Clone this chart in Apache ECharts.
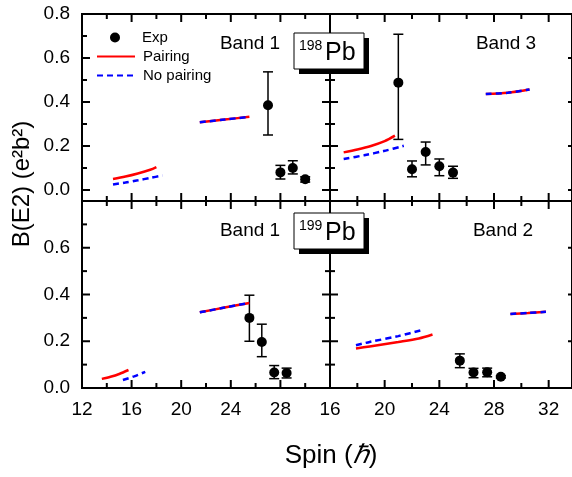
<!DOCTYPE html>
<html>
<head>
<meta charset="utf-8">
<script src="https://cdn.jsdelivr.net/npm/echarts@6/dist/echarts.min.js"></script>
<style>
  html, body { margin: 0; padding: 0; background: #fff; }
  #chart { width: 572px; height: 477px; }
</style>
</head>
<body>
<div id="chart"></div>
<script>
// --- axis ranges / ticks ---
var xLeftRange = [12, 32];
var xRightRange = [16, 32];
var yRange = [0, 0.8];
var xLeftMajor = [12, 16, 20, 24, 28, 32];
var xLeftMinor = [14, 18, 22, 26, 30];
var xRightMajor = [16, 20, 24, 28, 32];
var xRightMinor = [18, 22, 26, 30];
var yMajor = [0, 0.2, 0.4, 0.6, 0.8];
var yMinor = [0.1, 0.3, 0.5, 0.7];

// --- 198Pb band 1 : [spin, B(E2)] ; exp = [spin, value, low, high] ---
var pb198b1Pairing = [[14.5, 0.050], [15.5, 0.061], [16.5, 0.075], [17.5, 0.092], [18.0, 0.104]];
var pb198b1NoPairing = [[14.5, 0.025], [15.5, 0.034], [16.5, 0.044], [17.5, 0.055], [18.5, 0.066]];
var pb198b1PairingHi = [[21.5, 0.308], [23.5, 0.320], [25.5, 0.333]];
var pb198b1NoPairingHi = [[21.5, 0.308], [23.5, 0.320], [25.5, 0.333]];
var pb198b1Exp = [[27, 0.385, 0.250, 0.537], [28, 0.080, 0.050, 0.112], [29, 0.100, 0.073, 0.133], [30, 0.049, 0.036, 0.060]];

// --- 198Pb band 3 ---
var pb198b3Pairing = [[17.0, 0.171], [18.0, 0.184], [19.0, 0.200], [20.0, 0.222], [20.75, 0.247]];
var pb198b3NoPairing = [[17.0, 0.141], [18.5, 0.158], [20.0, 0.178], [21.4, 0.201]];
var pb198b3PairingHi = [[27.4, 0.436], [29.0, 0.442], [30.6, 0.457]];
var pb198b3NoPairingHi = [[27.4, 0.436], [29.0, 0.442], [30.6, 0.457]];
var pb198b3Exp = [[21, 0.488, 0.230, 0.708], [22, 0.094, 0.060, 0.132], [23, 0.173, 0.114, 0.218], [24, 0.108, 0.065, 0.141], [25, 0.079, 0.053, 0.108]];

// --- 199Pb band 1 ---
var pb199b1Pairing = [[13.6, 0.039], [14.3, 0.048], [15.0, 0.060], [15.75, 0.077]];
var pb199b1NoPairing = [[15.3, 0.034], [16.2, 0.050], [17.1, 0.069]];
var pb199b1PairingHi = [[21.5, 0.324], [23.5, 0.344], [25.5, 0.364]];
var pb199b1NoPairingHi = [[21.5, 0.324], [23.5, 0.344], [25.5, 0.364]];
var pb199b1Exp = [[25.5, 0.300, 0.200, 0.397], [26.5, 0.197, 0.134, 0.273], [27.5, 0.066, 0.040, 0.096], [28.5, 0.064, 0.043, 0.085]];

// --- 199Pb band 2 ---
var pb199b2Pairing = [[17.9, 0.169], [18.9, 0.178], [21.0, 0.197], [22.5, 0.212], [23.5, 0.229]];
var pb199b2NoPairing = [[17.9, 0.183], [18.9, 0.197], [21.0, 0.222], [22.8, 0.249]];
var pb199b2PairingHi = [[29.2, 0.317], [30.5, 0.321], [31.8, 0.326]];
var pb199b2NoPairingHi = [[29.2, 0.317], [30.5, 0.321], [31.8, 0.326]];
var pb199b2Exp = [[25.5, 0.117, 0.087, 0.146], [26.5, 0.066, 0.044, 0.084], [27.5, 0.067, 0.048, 0.085], [28.5, 0.048, 0.043, 0.053]];

var FONT = "'Liberation Sans', Arial, sans-serif";
var chart = echarts.init(document.getElementById('chart'));

// frames: 4 bordered grids. The right column runs to spin 34 (just off the canvas),
// the top row goes down to B(E2) = -0.05.
var frames = [
  { left: 82, top: 14, width: 248, height: 187, xHi: 32, yLo: -0.05 },
  { left: 330, top: 14, width: 246, height: 187, xHi: 34, yLo: -0.05 },
  { left: 82, top: 201, width: 248, height: 187, xHi: 32, yLo: 0 },
  { left: 330, top: 201, width: 246, height: 187, xHi: 34, yLo: 0 }
];
// plotting grids: y 0..0.8, x up to 32
var rightW = 246 * 16 / 18;
var plots = [
  { left: 82, top: 14, width: 248, height: 176 },
  { left: 330, top: 14, width: rightW, height: 176 },
  { left: 82, top: 201, width: 248, height: 187 },
  { left: 330, top: 201, width: rightW, height: 187 }
];

var grids = [];
frames.forEach(function (f) {
  grids.push({ left: f.left, top: f.top, width: f.width, height: f.height, show: true,
    backgroundColor: 'rgba(0,0,0,0)', borderColor: '#000', borderWidth: 2 });
});
plots.forEach(function (p) {
  grids.push({ left: p.left, top: p.top, width: p.width, height: p.height });
});

function plotAxis(grid, pos, range, step, offset, label) {
  return {
    type: 'value', gridIndex: grid, position: pos, offset: offset || 0,
    min: range[0], max: range[1], interval: step,
    splitLine: { show: false },
    axisLine: { show: false, onZero: false },
    axisTick: { show: false },
    axisLabel: label ? Object.assign({ show: true, color: '#000', fontSize: 19, fontFamily: FONT, margin: 12 }, label)
                     : { show: false }
  };
}

var xAxes = [], yAxes = [];
var yLabelTop = { formatter: function (v) { return v.toFixed(1); } };
var yLabelBottom = { formatter: function (v) { return v > 0.75 ? '' : v.toFixed(1); } };
var xLabelLeft = { formatter: function (v) { return v > 31 ? '' : String(v); } };
var xLabelRight = { formatter: function (v) { return String(v); } };
var labelSets = [
  { x: null, y: yLabelTop },
  { x: null, y: null },
  { x: xLabelLeft, y: yLabelBottom },
  { x: xLabelRight, y: null }
];
plots.forEach(function (p, i) {
  var xr = (i % 2 === 0) ? xLeftRange : xRightRange;
  xAxes.push(plotAxis(4 + i, 'bottom', xr, 4, i < 2 ? 11 : 0, labelSets[i].x));
  yAxes.push(plotAxis(4 + i, 'left', yRange, 0.2, 0, labelSets[i].y));
});

function renderErr(params, api) {
  var hi = api.coord([api.value(0), api.value(3)]);
  var lo = api.coord([api.value(0), api.value(2)]);
  var st = { stroke: '#000', lineWidth: 1.5 };
  return { type: 'group', children: [
    { type: 'line', shape: { x1: hi[0], y1: hi[1], x2: lo[0], y2: lo[1] }, style: st },
    { type: 'line', shape: { x1: hi[0] - 5, y1: hi[1], x2: hi[0] + 5, y2: hi[1] }, style: st },
    { type: 'line', shape: { x1: lo[0] - 5, y1: lo[1], x2: lo[0] + 5, y2: lo[1] }, style: st }
  ]};
}

var panels = [
  [pb198b1Pairing, pb198b1NoPairing, pb198b1PairingHi, pb198b1NoPairingHi, pb198b1Exp],
  [pb198b3Pairing, pb198b3NoPairing, pb198b3PairingHi, pb198b3NoPairingHi, pb198b3Exp],
  [pb199b1Pairing, pb199b1NoPairing, pb199b1PairingHi, pb199b1NoPairingHi, pb199b1Exp],
  [pb199b2Pairing, pb199b2NoPairing, pb199b2PairingHi, pb199b2NoPairingHi, pb199b2Exp]
];

var series = [];
panels.forEach(function (p, i) {
  var common = { xAxisIndex: i, yAxisIndex: i };
  [[p[0], 'Pairing', '#ff0000', 'solid'], [p[2], 'Pairing', '#ff0000', 'solid'],
   [p[1], 'No pairing', '#0000ff', [6, 4]], [p[3], 'No pairing', '#0000ff', [6, 4]]]
    .forEach(function (s) {
      series.push(Object.assign({ type: 'line', name: s[1], data: s[0], smooth: 0.3, symbol: 'none',
        showSymbol: false, color: s[2], lineStyle: { color: s[2], width: 2.5, type: s[3] },
        silent: true, clip: false }, common));
    });
  series.push(Object.assign({ type: 'custom', name: 'Exp err', data: p[4], renderItem: renderErr, silent: true, clip: false }, common));
  series.push(Object.assign({ type: 'scatter', name: 'Exp', data: p[4], symbol: 'circle', symbolSize: 10,
    itemStyle: { color: '#000', opacity: 1 }, silent: true, clip: false }, common));
});

chart.setOption({
  animation: false,
  grid: grids,
  xAxis: xAxes,
  yAxis: yAxes,
  legend: [
    { data: ['Exp'], left: 110, top: 30, padding: 0, orient: 'vertical', itemWidth: 10, itemHeight: 10,
      itemGap: 5, selectedMode: false,
      textStyle: { fontSize: 15, fontFamily: FONT, color: '#000', padding: [0, 0, 0, 17] } },
    { data: [{ name: 'Pairing', itemStyle: { opacity: 0 } }, { name: 'No pairing', itemStyle: { opacity: 0 } }],
      left: 96, top: 49, padding: 0, orient: 'vertical', itemWidth: 38, itemHeight: 14,
      itemGap: 4, selectedMode: false,
      textStyle: { fontSize: 15, fontFamily: FONT, color: '#000', padding: [0, 0, 0, 3] } }
  ],
  series: series
});

// inward ticks on all four sides of each frame, positioned through each panel's axes
function tickLine(x1, y1, x2, y2) {
  return { type: 'line', z: 50, silent: true, shape: { x1: x1, y1: y1, x2: x2, y2: y2 },
    style: { stroke: '#000', lineWidth: 2 } };
}
var tickEls = [];
frames.forEach(function (f, i) {
  var left = i % 2 === 0;
  var xMaj = left ? xLeftMajor : xRightMajor, xMin = left ? xLeftMinor : xRightMinor;
  var xLo = left ? xLeftRange[0] : xRightRange[0];
  var px = function (v) { return chart.convertToPixel({ xAxisIndex: i }, v); };
  var py = function (v) { return chart.convertToPixel({ yAxisIndex: i }, v); };
  var yB = py(f.yLo), yT = py(yRange[1]), xL = px(xLo), xR = px(f.xHi);
  xMaj.concat(xMin).forEach(function (v, k) {
    var len = k < xMaj.length ? 8 : 5, x = px(v);
    tickEls.push(tickLine(x, yB, x, yB - len), tickLine(x, yT, x, yT + len));
  });
  yMajor.concat(yMinor).forEach(function (v, k) {
    var len = k < yMajor.length ? 8 : 5, y = py(v);
    tickEls.push(tickLine(xL, y, xL + len, y), tickLine(xR, y, xR - len, y));
  });
});

function label(txt, x, y, size) {
  return { type: 'text', x: x, y: y, z: 100, style: { text: txt, fill: '#000', font: size + 'px ' + FONT,
    textAlign: 'center', textVerticalAlign: 'middle' } };
}
function nucleusBox(mass, x, y) {
  return { type: 'group', x: x, y: y, children: [
    { type: 'rect', z: 100, shape: { x: 5, y: 5, width: 70, height: 36 }, style: { fill: '#000' } },
    { type: 'rect', z: 101, shape: { x: 0, y: 0, width: 70, height: 36 }, style: { fill: '#fff', stroke: '#000', lineWidth: 1 } },
    { type: 'text', z: 102, x: 5, y: 13, style: { text: mass, fill: '#000', font: '14px ' + FONT, textVerticalAlign: 'middle' } },
    { type: 'text', z: 102, x: 31, y: 20, style: { text: 'Pb', fill: '#000', font: '25px ' + FONT, textVerticalAlign: 'middle' } }
  ]};
}

chart.setOption({
  graphic: tickEls.concat([
    label('Band 1', 250, 44, 19),
    label('Band 3', 506, 44, 19),
    label('Band 1', 250, 231, 19),
    label('Band 2', 503, 231, 19),
    nucleusBox('198', 294, 33),
    nucleusBox('199', 294, 213),
    { type: 'text', x: 22, y: 184, rotation: Math.PI / 2,
      style: { text: 'B(E2) (e\u00b2b\u00b2)', fill: '#000', font: '24px ' + FONT, textAlign: 'center', textVerticalAlign: 'middle' } },
    { type: 'text', x: 331, y: 456,
      style: { text: '{n|Spin (}{h|\u210f}{n|)}', textAlign: 'center', textVerticalAlign: 'middle',
        rich: { n: { fontSize: 26, fontFamily: FONT, fill: '#000' },
                h: { fontSize: 26, fontFamily: FONT, fontStyle: 'italic', fill: '#000' } } } }
  ])
});
</script>
</body>
</html>
